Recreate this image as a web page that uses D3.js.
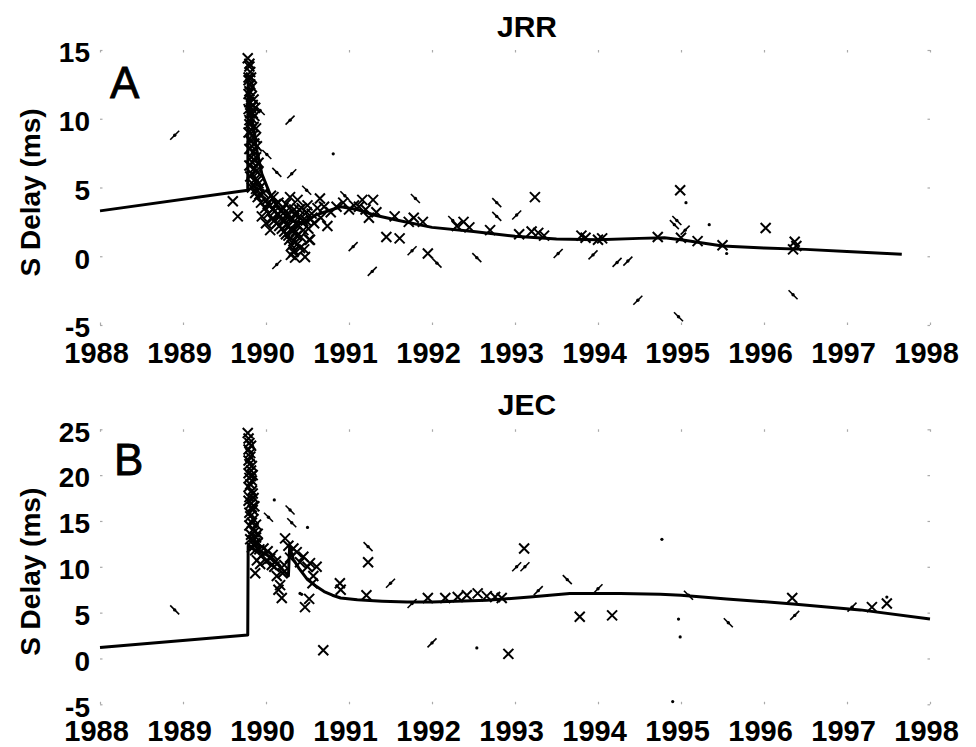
<!DOCTYPE html>
<html><head><meta charset="utf-8">
<script src="https://cdn.jsdelivr.net/npm/d3@7"></script>
<style>
body{margin:0;background:#fff;}
svg text{font-family:"Liberation Sans",Arial,sans-serif;fill:#000;}
</style></head>
<body><svg id="c" width="976" height="747"></svg>
<script>
// ---------- data ----------
const years = [1988,1989,1990,1991,1992,1993,1994,1995,1996,1997,1998];
const jrrTicks = [-5,0,5,10,15];
const jecTicks = [-5,0,5,10,15,20,25];
const titles = ["JRR","JEC"];
const panelLetters = ["A","B"];
const yLabel = "S Delay (ms)";

const jrrLine = [[1988,3.3],[1989.78,4.8],[1989.785,12.5],[1989.83,10],[1989.88,8],[1989.95,6],[1990.05,4.5],[1990.15,3.5],[1990.3,2.6],[1990.45,2.4],[1990.6,3.0],[1990.9,3.6],[1991.1,3.4],[1991.3,3.0],[1991.6,2.6],[1992.0,2.1],[1992.5,1.8],[1993.0,1.45],[1993.5,1.25],[1994.0,1.2],[1994.5,1.3],[1994.8,1.35],[1995.0,1.2],[1995.5,0.75],[1996.0,0.6],[1996.5,0.5],[1997.0,0.35],[1997.66,0.15]];

const jrrX = [[1989.78,14.4],[1989.80,13.8],[1989.81,13.4],[1989.79,13.0],[1989.81,12.5],[1989.80,12.0],[1989.82,11.6],[1989.80,11.2],[1989.82,10.8],[1989.81,10.4],[1989.83,10.0],[1989.80,9.6],[1989.82,9.2],[1989.84,8.8],[1989.81,8.4],[1989.83,8.0],[1989.85,7.6],[1989.82,7.2],[1989.84,6.8],[1989.86,6.4],[1989.83,6.0],[1989.87,5.6],[1989.85,5.2],[1989.88,4.9],[1989.86,10.2],[1989.85,11.4],[1989.87,8.6],[1989.88,7.2],[1989.90,6.1],[1989.91,5.3],
[1989.79,12.8],[1989.83,12.3],[1989.79,11.8],[1989.84,11.0],[1989.79,10.7],[1989.84,10.4],[1989.80,9.9],[1989.85,9.4],[1989.79,9.0],[1989.86,8.2],[1989.80,7.8],[1989.86,7.0],[1989.80,6.6],[1989.88,6.2],[1989.81,5.8],[1989.89,5.5],[1989.83,5.0],[1989.87,4.6],[1989.90,4.3],[1989.93,5.0],[1989.91,6.8],[1989.89,8.0],[1989.88,9.3],[1989.87,10.8],[1989.82,13.0],[1989.80,14.0],
[1989.92,4.5],[1989.94,3.9],[1989.97,4.6],[1989.99,3.5],[1990.01,4.1],[1990.03,3.1],[1990.05,3.7],[1990.07,2.7],[1990.09,4.3],[1990.11,3.3],[1990.13,2.4],[1990.15,3.9],[1990.17,2.9],[1990.19,2.0],[1990.21,3.5],[1990.23,2.6],[1990.24,1.6],[1990.26,3.1],[1990.27,2.2],[1990.28,1.2],[1990.29,4.3],[1990.30,2.8],[1990.31,0.8],[1990.32,1.9],[1990.33,0.3],[1990.34,3.4],[1990.35,-0.1],[1990.36,2.4],[1990.37,1.5],[1990.38,4.1],[1990.40,2.9],[1990.41,0.6],[1990.43,3.5],[1990.45,1.9],[1990.47,-0.05],[1990.48,2.6],[1990.50,3.7],[1990.52,1.2],[1990.55,3.1],[1990.58,2.4],[1990.62,3.5],[1990.65,4.2],[1990.66,2.8],[1990.70,3.6],[1990.74,2.2],[1990.78,3.2],[1989.95,2.9],[1990.0,2.4],[1990.05,1.9],[1990.53,1.2],
[1990.02,3.8],[1990.06,4.4],[1990.08,3.4],[1990.10,2.6],[1990.12,3.8],[1990.14,3.0],[1990.16,2.2],[1990.18,3.3],[1990.20,2.6],[1990.22,1.8],[1990.24,3.8],[1990.25,2.3],[1990.27,1.5],[1990.28,3.5],[1990.30,1.9],[1990.32,2.7],[1990.33,1.1],[1990.35,3.0],[1990.36,1.8],[1990.38,0.9],[1990.39,2.2],[1990.40,3.4],[1990.42,1.4],[1990.44,2.6],[1990.46,0.5],[1990.49,3.2],[1990.51,2.0],[1990.54,2.7],[1990.34,0.4],[1990.30,0.1],
[1990.85,3.6],[1990.93,3.9],[1991.0,3.4],[1991.06,3.7],[1991.12,3.6],[1991.16,4.1],[1991.2,3.4],[1991.24,2.8],[1991.29,4.1],[1991.33,3.2],[1991.45,1.4],[1991.55,2.9],[1991.61,1.3],[1991.72,2.5],[1991.78,2.8],[1991.89,2.5],[1991.95,0.2],[1992.3,2.2],[1992.38,2.5],[1992.45,2.1],[1992.7,1.9],[1993.05,1.6],[1993.2,1.8],[1993.28,1.7],[1993.24,4.3],[1993.35,1.5],[1993.8,1.5],[1993.85,1.35],[1994.0,1.2],[1994.05,1.3],[1994.72,1.4],[1995.0,1.35],[1994.99,4.8],[1995.2,1.1],[1995.5,0.8],[1996.02,2.05],[1996.37,1.05],[1996.35,0.5],[1996.39,0.75],[1989.6,4.0],[1989.66,2.9]];

const jrrBars = [[1988.9,8.8,1],[1990.29,9.9,1],[1990.01,7.4,-1],[1989.93,10.6,-1],[1990.31,6.0,1],[1990.13,6.1,-1],[1990.49,4.8,-1],[1990.95,4.4,-1],[1991.8,4.2,-1],[1990.13,-0.6,1],[1991.28,-1.1,1],[1991.05,0.7,1],[1991.76,0.4,1],[1992.06,-0.5,-1],[1992.54,-0.1,-1],[1992.78,3.9,-1],[1992.78,2.9,-1],[1993.02,3.0,1],[1993.52,0.2,1],[1993.94,0.1,1],[1994.23,-0.45,1],[1994.36,-0.35,1],[1994.48,-3.2,1],[1992.25,2.6,-1],[1994.95,2.6,-1],[1994.92,2.3,-1],[1995.05,1.9,1],[1996.35,-2.8,-1],[1994.97,-4.4,-1]];

const jrrDots = [[1990.81,7.45],[1995.06,3.9],[1995.34,2.3],[1995.55,0.2]];

const jecLine = [[1988,1.2],[1989.78,2.55],[1989.785,12.3],[1989.85,11.9],[1989.95,11.6],[1990.05,11.1],[1990.15,10.2],[1990.27,9.0],[1990.285,12.2],[1990.33,10.8],[1990.4,9.8],[1990.5,8.6],[1990.6,7.9],[1990.7,7.3],[1990.8,6.9],[1990.9,6.6],[1991.1,6.4],[1991.4,6.25],[1991.7,6.15],[1992.0,6.15],[1992.66,6.35],[1993.18,6.7],[1993.66,7.1],[1994.27,7.1],[1994.75,7.0],[1995.0,6.9],[1995.55,6.5],[1996.35,5.95],[1997.16,5.3],[1998.0,4.3]];

const jecX = [[1989.78,24.6],[1989.80,23.5],[1989.79,22.8],[1989.81,22.0],[1989.80,21.2],[1989.82,20.5],[1989.80,19.7],[1989.81,19.0],[1989.83,18.3],[1989.80,17.6],[1989.82,16.9],[1989.84,16.2],[1989.81,15.5],[1989.83,14.8],[1989.85,14.1],[1989.82,13.5],[1989.84,12.9],[1989.86,12.3],[1989.88,13.2],[1989.87,11.8],[1989.85,17.5],[1989.84,20.0],[1989.90,12.6],[1989.92,11.9],
[1989.79,24.0],[1989.82,23.2],[1989.79,21.6],[1989.83,21.0],[1989.79,20.2],[1989.83,19.4],[1989.79,18.7],[1989.84,18.0],[1989.79,17.2],[1989.83,16.5],[1989.80,15.9],[1989.85,15.2],[1989.80,14.5],[1989.86,13.8],[1989.81,13.0],[1989.87,12.6],[1989.83,12.1],[1989.90,13.6],[1989.88,14.6],[1989.86,16.6],[1989.82,19.9],[1989.81,22.4],
[1989.87,9.3],[1989.89,10.7],[1989.93,10.3],[1989.95,11.3],[1989.97,12.0],[1990.0,10.6],[1990.02,11.7],[1990.05,10.9],[1990.07,10.2],[1990.08,11.3],[1990.1,10.0],[1990.12,10.6],[1990.13,9.0],[1990.17,8.0],[1990.19,6.6],[1990.15,7.5],[1990.2,9.3],[1990.22,10.2],[1990.23,13.1],[1990.27,12.3],[1990.29,11.0],[1990.33,12.0],[1990.37,11.6],[1990.41,10.5],[1990.45,11.1],[1990.5,10.0],[1990.53,10.4],[1990.56,8.2],[1990.57,9.0],[1990.61,10.0],[1990.47,5.6],[1990.52,6.5],[1990.69,0.9],[1990.89,8.2],[1990.9,7.5],[1991.23,10.5],[1991.21,6.9],[1991.95,6.6],[1992.16,6.6],[1992.31,6.7],[1992.42,6.9],[1992.55,7.1],[1992.66,6.8],[1992.76,6.7],[1992.84,6.6],[1993.11,12.0],[1993.78,4.55],[1994.17,4.7],[1992.92,0.5],[1996.34,6.6],[1997.3,5.6],[1997.48,6.0]];

const jecBars = [[1988.9,5.3,-1],[1990.03,15.4,-1],[1990.29,16.2,-1],[1990.31,14.8,-1],[1991.23,12.2,-1],[1991.5,8.2,1],[1991.76,6.0,1],[1993.02,10.0,1],[1993.12,10.0,1],[1993.63,8.6,-1],[1993.28,7.4,1],[1994.0,7.6,1],[1992.0,1.7,1],[1995.57,3.9,-1],[1996.37,4.7,1],[1997.06,5.6,1],[1995.09,6.9,-1]];

const jecDots = [[1990.1,17.3],[1990.5,14.3],[1990.41,7.1],[1990.43,7.0],[1994.77,13.0],[1992.54,1.15],[1994.97,4.3],[1994.99,2.35],[1997.48,6.7],[1994.9,-4.7]];

// ---------- drawing ----------
const svg = d3.select("#c");
const x = d3.scaleLinear().domain([1988,1998]).range([100,930]);

const panels = [
  {title:titles[0], letter:panelLetters[0], ticks:jrrTicks, dom:[-5,15], rng:[325,50], line:jrrLine, xs:jrrX, bars:jrrBars, dots:jrrDots, titleY:37, letterY:98, letterX:110, labelBase:363},
  {title:titles[1], letter:panelLetters[1], ticks:jecTicks, dom:[-5,25], rng:[704.3,429.3], line:jecLine, xs:jecX, bars:jecBars, dots:jecDots, titleY:415, letterY:475, letterX:114, labelBase:741}
];

panels.forEach(p => {
  const y = d3.scaleLinear().domain(p.dom).range(p.rng);
  const g = svg.append("g");
  const top = p.rng[1], bot = p.rng[0];

  const tickStyle = sel => { sel.select(".domain").remove(); sel.selectAll("line").attr("stroke","#aaa").attr("stroke-width",1.2); };
  g.append("g").attr("transform",`translate(0,${top})`).call(d3.axisTop(x).tickValues(years).tickSize(-2.5).tickFormat("")).call(tickStyle);
  g.append("g").attr("transform",`translate(930,0)`).call(d3.axisRight(y).tickValues(p.ticks).tickSize(-2.5).tickFormat("")).call(tickStyle);

  const bx = g.append("g").attr("transform",`translate(0,${bot})`)
    .call(d3.axisBottom(x).tickValues(years).tickSize(-2.5).tickPadding(0).tickFormat(d => String(d)))
    .call(tickStyle);
  bx.selectAll("text").attr("dy",null).attr("y", p.labelBase - bot).attr("dx",-4)
    .style("font-size","29px").style("font-weight","bold").attr("fill","#000");

  const ly = g.append("g").attr("transform",`translate(100,0)`)
    .call(d3.axisLeft(y).tickValues(p.ticks).tickSize(-2.5).tickPadding(10).tickFormat(d => String(d)))
    .call(tickStyle);
  ly.selectAll("text").attr("dy","0.42em").style("font-size","28px").style("font-weight","bold").attr("fill","#000");

  g.append("text").attr("x",527).attr("y",p.titleY).attr("text-anchor","middle")
    .style("font-size","30px").style("font-weight","bold").text(p.title);
  g.append("text").attr("x",p.letterX).attr("y",p.letterY)
    .style("font-size","44px").style("stroke","#000").style("stroke-width","0.8").text(p.letter);
  const cy = (top+bot)/2 + 5;
  g.append("text").attr("transform",`translate(40,${cy}) rotate(-90)`).attr("text-anchor","middle")
    .style("font-size","28px").style("font-weight","bold").text(yLabel);

  g.append("path").datum(p.line)
    .attr("d", d3.line().x(d=>x(d[0])).y(d=>y(d[1])))
    .attr("fill","none").attr("stroke","#000").attr("stroke-width",3).attr("stroke-linejoin","round");

  const s = 5;
  g.append("g").selectAll("path").data(p.xs).join("path")
    .attr("d", d => { const cx=x(d[0]), cy2=y(d[1]); return `M${cx-s},${cy2-s}L${cx+s},${cy2+s}M${cx-s},${cy2+s}L${cx+s},${cy2-s}`; })
    .attr("stroke","#000").attr("stroke-width",2).attr("fill","none");

  const L = 4.5;
  const bg = g.append("g").selectAll("g").data(p.bars).join("g");
  bg.append("path")
    .attr("d", d => { const cx=x(d[0]), cy2=y(d[1]); return `M${cx-L},${cy2+L*d[2]}L${cx+L},${cy2-L*d[2]}`; })
    .attr("stroke","#000").attr("stroke-width",1.6);
  bg.append("circle").attr("cx",d=>x(d[0])).attr("cy",d=>y(d[1])).attr("r",1.7).attr("fill","#000");

  g.append("g").selectAll("circle").data(p.dots).join("circle")
    .attr("cx",d=>x(d[0])).attr("cy",d=>y(d[1])).attr("r",1.6).attr("fill","#000");
});
</script></body></html>
